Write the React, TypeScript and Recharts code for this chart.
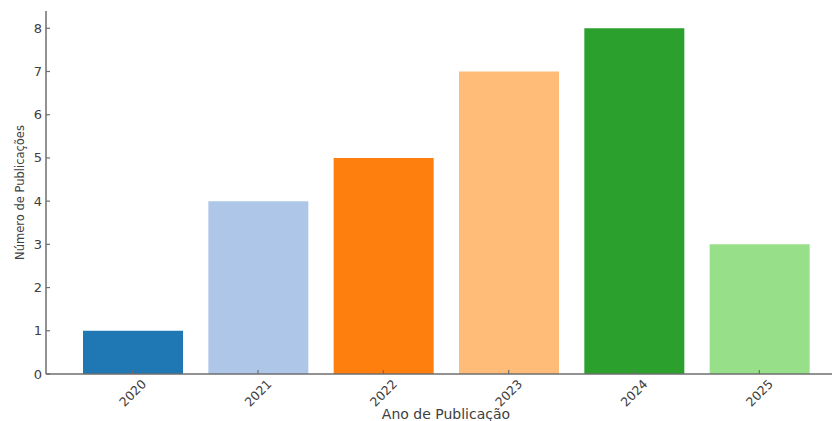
import { BarChart, Bar, XAxis, YAxis, Cell } from 'recharts';

const years = ['2020', '2021', '2022', '2023', '2024', '2025'];
const publications = [1, 4, 5, 7, 8, 3];
const barColors = ['#1f77b4', '#aec7e8', '#ff7f0e', '#ffbb78', '#2ca02c', '#98df8a'];
const yTicks = [0, 1, 2, 3, 4, 5, 6, 7, 8];

const data = years.map((year, i) => ({ year, value: publications[i] }));

const font = 'DejaVu Sans, sans-serif';
const textColor = '#404040';
const axisColor = '#6e6e6e';

function YTick(props: any) {
    const { x, y, payload } = props;
    return (
        <g>
            <line x1={x + 6} x2={x + 10} y1={y} y2={y} stroke={axisColor} strokeWidth={1.2} />
            <text x={x + 2} y={y} textAnchor="end" dominantBaseline="central" fill={textColor} fontSize={13} fontFamily={font}>
                {payload.value}
            </text>
        </g>
    );
}

function XTick(props: any) {
    const { x, y, payload } = props;
    const cy = y + 17;
    return (
        <g>
            <line x1={x} x2={x} y1={y - 2} y2={y - 6} stroke={axisColor} strokeWidth={1.2} />
            <text
                x={x}
                y={cy}
                textAnchor="middle"
                dominantBaseline="central"
                fill={textColor}
                fontSize={12.5}
                fontFamily={font}
                transform={`rotate(-45, ${x}, ${cy})`}
            >
                {payload.value}
            </text>
        </g>
    );
}

export default function App() {
    return (
        <div style={{ position: 'absolute', left: 0, top: 0, width: 832, height: 421, overflow: 'hidden', background: '#fff' }}>
            <BarChart width={860} height={421} data={data} margin={{ top: 11, right: 14, left: 0, bottom: 0 }}>
                <XAxis
                    dataKey="year"
                    height={47}
                    padding={{ left: 24, right: 24 }}
                    tickSize={0}
                    tickMargin={2}
                    tick={<XTick />}
                    axisLine={{ stroke: axisColor, strokeWidth: 1.5 }}
                    tickLine={false}
                    interval={0}
                    label={{ value: 'Ano de Publicação', position: 'insideBottom', offset: 2, fill: textColor, fontSize: 14, fontFamily: font }}
                />
                <YAxis
                    width={46}
                    domain={[0, 8.4]}
                    ticks={yTicks}
                    allowDataOverflow
                    tickSize={0}
                    tickMargin={6}
                    tick={<YTick />}
                    axisLine={{ stroke: axisColor, strokeWidth: 1.5 }}
                    tickLine={false}
                    label={{ value: 'Número de Publicações', angle: -90, position: 'insideLeft', offset: 20, fill: textColor, fontSize: 11.5, fontFamily: font, style: { textAnchor: 'middle' } }}
                />
                <Bar dataKey="value" barSize={100} isAnimationActive={false}>
                    {data.map((d, i) => (
                        <Cell key={d.year} fill={barColors[i]} />
                    ))}
                </Bar>
            </BarChart>
        </div>
    );
}
